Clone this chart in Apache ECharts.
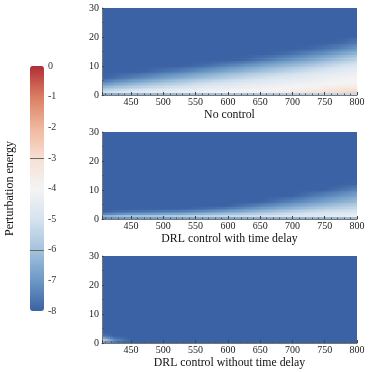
<!DOCTYPE html>
<html>
<head>
<meta charset="utf-8">
<script src="https://cdn.jsdelivr.net/npm/echarts@6/dist/echarts.min.js"></script>
<style>
  html, body { margin: 0; padding: 0; background: #fff; }
  #chart { width: 372px; height: 372px; }
</style>
</head>
<body>
<div id="chart"></div>
<script>
// grid nodes (x: time, y: height)
const xNodes = [405, 425, 450, 475, 500, 525, 550, 575, 600, 625, 650, 675, 700, 725, 750, 775, 800];
const yNodes = [0, 0.3, 0.7, 1.5, 2.5, 3.5, 4.5, 6, 8, 10, 12, 14, 16, 18, 20, 30];

// log perturbation energy at the nodes, one row per y node (bottom to top)
const noControl = [
  [-8, -8, -8, -8, -8, -8, -8, -8, -8, -8, -8, -8, -8, -8, -8, -8, -8],
  [-8, -8, -8, -8, -8, -8, -8, -8, -8, -8, -8, -8, -8, -8, -8, -8, -8],
  [-5.2, -4.9, -4.6, -4.5, -4.4, -4.3, -4.2, -4.1, -4.0, -3.9, -3.8, -3.7, -3.5, -3.3, -3.1, -2.9, -2.6],
  [-5.5, -5.2, -4.9, -4.7, -4.5, -4.4, -4.3, -4.2, -4.1, -4.0, -3.9, -3.8, -3.7, -3.5, -3.3, -3.1, -2.9],
  [-6.2, -5.9, -5.6, -5.3, -5.1, -4.9, -4.7, -4.5, -4.4, -4.3, -4.2, -4.1, -4.0, -3.9, -3.7, -3.5, -3.4],
  [-6.9, -6.6, -6.2, -5.9, -5.6, -5.4, -5.1, -4.9, -4.7, -4.5, -4.4, -4.3, -4.2, -4.1, -4.0, -3.9, -3.8],
  [-7.5, -7.2, -6.8, -6.5, -6.2, -5.9, -5.6, -5.3, -5.1, -4.9, -4.7, -4.5, -4.4, -4.3, -4.2, -4.1, -4.0],
  [-8, -7.8, -7.5, -7.2, -6.9, -6.6, -6.3, -6.0, -5.7, -5.4, -5.1, -4.9, -4.7, -4.5, -4.3, -4.2, -4.1],
  [-8, -8, -8, -7.9, -7.7, -7.5, -7.2, -6.9, -6.6, -6.3, -6.0, -5.7, -5.4, -5.1, -4.8, -4.6, -4.4],
  [-8, -8, -8, -8, -8, -8, -7.9, -7.7, -7.4, -7.1, -6.8, -6.5, -6.2, -5.9, -5.5, -5.1, -4.8],
  [-8, -8, -8, -8, -8, -8, -8, -8, -8, -7.9, -7.6, -7.3, -7.0, -6.7, -6.3, -5.9, -5.5],
  [-8, -8, -8, -8, -8, -8, -8, -8, -8, -8, -8, -7.9, -7.7, -7.4, -7.1, -6.7, -6.3],
  [-8, -8, -8, -8, -8, -8, -8, -8, -8, -8, -8, -8, -8, -7.9, -7.7, -7.4, -7.0],
  [-8, -8, -8, -8, -8, -8, -8, -8, -8, -8, -8, -8, -8, -8, -8, -7.9, -7.6],
  [-8, -8, -8, -8, -8, -8, -8, -8, -8, -8, -8, -8, -8, -8, -8, -8, -8],
  [-8, -8, -8, -8, -8, -8, -8, -8, -8, -8, -8, -8, -8, -8, -8, -8, -8]
];

const delayControl = [
  [-8, -8, -8, -8, -8, -8, -8, -8, -8, -8, -8, -8, -8, -8, -8, -8, -8],
  [-8, -8, -8, -8, -8, -8, -8, -8, -8, -8, -8, -8, -8, -8, -8, -8, -8],
  [-6.3, -6.0, -5.8, -5.7, -5.6, -5.5, -5.4, -5.3, -5.2, -5.1, -5.0, -4.9, -4.8, -4.7, -4.6, -4.5, -4.3],
  [-7.3, -7.0, -6.8, -6.7, -6.5, -6.4, -6.2, -6.0, -5.8, -5.6, -5.4, -5.2, -5.0, -4.8, -4.7, -4.6, -4.5],
  [-8, -7.8, -7.7, -7.6, -7.5, -7.4, -7.2, -7.0, -6.8, -6.5, -6.2, -5.9, -5.6, -5.3, -5.1, -5.0, -4.9],
  [-8, -8, -8, -8, -8, -8, -7.9, -7.7, -7.5, -7.2, -6.9, -6.6, -6.3, -6.0, -5.7, -5.5, -5.3],
  [-8, -8, -8, -8, -8, -8, -8, -8, -8, -7.7, -7.4, -7.1, -6.8, -6.5, -6.2, -5.9, -5.7],
  [-8, -8, -8, -8, -8, -8, -8, -8, -8, -8, -8, -7.7, -7.4, -7.1, -6.8, -6.5, -6.2],
  [-8, -8, -8, -8, -8, -8, -8, -8, -8, -8, -8, -8, -8, -7.7, -7.4, -7.1, -6.8],
  [-8, -8, -8, -8, -8, -8, -8, -8, -8, -8, -8, -8, -8, -8, -8, -7.7, -7.4],
  [-8, -8, -8, -8, -8, -8, -8, -8, -8, -8, -8, -8, -8, -8, -8, -8, -7.9],
  [-8, -8, -8, -8, -8, -8, -8, -8, -8, -8, -8, -8, -8, -8, -8, -8, -8],
  [-8, -8, -8, -8, -8, -8, -8, -8, -8, -8, -8, -8, -8, -8, -8, -8, -8],
  [-8, -8, -8, -8, -8, -8, -8, -8, -8, -8, -8, -8, -8, -8, -8, -8, -8],
  [-8, -8, -8, -8, -8, -8, -8, -8, -8, -8, -8, -8, -8, -8, -8, -8, -8],
  [-8, -8, -8, -8, -8, -8, -8, -8, -8, -8, -8, -8, -8, -8, -8, -8, -8]
];

const noDelayControl = [
  [-8, -8, -8, -8, -8, -8, -8, -8, -8, -8, -8, -8, -8, -8, -8, -8, -8],
  [-8, -8, -8, -8, -8, -8, -8, -8, -8, -8, -8, -8, -8, -8, -8, -8, -8],
  [-5.2, -7.2, -8, -8, -8, -8, -8, -8, -8, -8, -8, -8, -8, -8, -8, -8, -8],
  [-6.4, -7.6, -8, -8, -8, -8, -8, -8, -8, -8, -8, -8, -8, -8, -8, -8, -8],
  [-7.6, -8, -8, -8, -8, -8, -8, -8, -8, -8, -8, -8, -8, -8, -8, -8, -8],
  [-8, -8, -8, -8, -8, -8, -8, -8, -8, -8, -8, -8, -8, -8, -8, -8, -8],
  [-8, -8, -8, -8, -8, -8, -8, -8, -8, -8, -8, -8, -8, -8, -8, -8, -8],
  [-8, -8, -8, -8, -8, -8, -8, -8, -8, -8, -8, -8, -8, -8, -8, -8, -8],
  [-8, -8, -8, -8, -8, -8, -8, -8, -8, -8, -8, -8, -8, -8, -8, -8, -8],
  [-8, -8, -8, -8, -8, -8, -8, -8, -8, -8, -8, -8, -8, -8, -8, -8, -8],
  [-8, -8, -8, -8, -8, -8, -8, -8, -8, -8, -8, -8, -8, -8, -8, -8, -8],
  [-8, -8, -8, -8, -8, -8, -8, -8, -8, -8, -8, -8, -8, -8, -8, -8, -8],
  [-8, -8, -8, -8, -8, -8, -8, -8, -8, -8, -8, -8, -8, -8, -8, -8, -8],
  [-8, -8, -8, -8, -8, -8, -8, -8, -8, -8, -8, -8, -8, -8, -8, -8, -8],
  [-8, -8, -8, -8, -8, -8, -8, -8, -8, -8, -8, -8, -8, -8, -8, -8, -8],
  [-8, -8, -8, -8, -8, -8, -8, -8, -8, -8, -8, -8, -8, -8, -8, -8, -8]
];

const panels = [noControl, delayControl, noDelayControl];
const panelTitles = ['No control', 'DRL control with time delay', 'DRL control without time delay'];
const colorbarTitle = 'Perturbation energy';
const energyMin = -8;
const energyMax = 0;

const FONT = 'Liberation Serif';
const palette = ['#3a62a4', '#6c99c6', '#a5c3dd', '#d6e3ef', '#f4f4f4', '#f7dfd2', '#f0b69c', '#da7d61', '#b02e36'];

function colorOf(v) {
  return echarts.color.lerp((v - energyMin) / (energyMax - energyMin), palette);
}

// one item per cell: [x0, x1, y0, y1, v(x0,y0), v(x1,y0), v(x0,y1), v(x1,y1)]
function toCells(nodes) {
  const cells = [];
  for (let j = 0; j < yNodes.length - 1; j++) {
    for (let i = 0; i < xNodes.length - 1; i++) {
      cells.push([xNodes[i], xNodes[i + 1], yNodes[j], yNodes[j + 1],
        nodes[j][i], nodes[j][i + 1], nodes[j + 1][i], nodes[j + 1][i + 1]]);
    }
  }
  return cells;
}

// shade each cell in thin strips, each strip a horizontal gradient
function renderCell(params, api) {
  const a = api.coord([api.value(0), api.value(3)]);
  const b = api.coord([api.value(1), api.value(2)]);
  const x = Math.floor(a[0]);
  const w = Math.ceil(b[0]) - x;
  const top = a[1], bottom = b[1];
  const v00 = api.value(4), v10 = api.value(5), v01 = api.value(6), v11 = api.value(7);
  const n = Math.max(1, Math.round((bottom - top) / 1.5));
  const children = [];
  for (let k = 0; k < n; k++) {
    const y0 = top + (bottom - top) * k / n;
    const y1 = top + (bottom - top) * (k + 1) / n;
    const t = 1 - (k + 0.5) / n;
    const left = v00 + (v01 - v00) * t;
    const right = v10 + (v11 - v10) * t;
    children.push({
      type: 'rect',
      shape: {x: x, y: Math.floor(y0), width: w, height: Math.ceil(y1) - Math.floor(y0)},
      style: {
        fill: new echarts.graphic.LinearGradient(0, 0, 1, 0, [
          {offset: 0, color: colorOf(left)},
          {offset: 1, color: colorOf(right)}
        ])
      }
    });
  }
  return {type: 'group', children: children};
}

const gridTops = [8, 132, 256];

const chart = echarts.init(document.getElementById('chart'), null, {renderer: 'canvas'});

const grids = gridTops.map(t => ({left: 102, width: 255, top: t, height: 87}));
grids.push({left: 30, width: 14, top: 66, height: 245});

const xAxes = panelTitles.map((title, i) => ({
  type: 'value',
  gridIndex: i,
  min: 405,
  max: 800,
  splitNumber: 8,
  name: title,
  nameLocation: 'middle',
  nameGap: 14,
  nameTextStyle: {fontFamily: FONT, fontSize: 11.8, color: '#111'},
  axisLine: {lineStyle: {color: '#777', width: 1}},
  axisTick: {inside: true, length: 3, lineStyle: {color: '#444'}},
  minorTick: {show: true, splitNumber: 5, length: 1.5, lineStyle: {color: '#555'}},
  axisLabel: {showMinLabel: false, margin: 2, fontFamily: FONT, fontSize: 10, color: '#222'},
  splitLine: {show: false},
  z: 5
}));
xAxes.push({type: 'value', gridIndex: 3, min: 0, max: 1, show: false});

const yAxes = panelTitles.map((title, i) => ({
  type: 'value',
  gridIndex: i,
  min: 0,
  max: 30,
  interval: 10,
  axisLine: {show: true, lineStyle: {color: '#777', width: 1}},
  axisTick: {inside: true, length: 2, lineStyle: {color: '#444'}},
  minorTick: {show: true, splitNumber: 2, length: 1.5, lineStyle: {color: '#555'}},
  axisLabel: {margin: 3, fontFamily: FONT, fontSize: 10, color: '#222'},
  splitLine: {show: false},
  z: 5
}));
yAxes.push({
  type: 'value',
  gridIndex: 3,
  position: 'right',
  min: energyMin,
  max: energyMax,
  interval: 1,
  axisLine: {show: false},
  axisTick: {show: false},
  axisLabel: {margin: 4, fontFamily: FONT, fontSize: 10, color: '#333'},
  splitLine: {
    show: true,
    showMaxLine: false,
    showMinLine: false,
    lineStyle: {color: ['rgba(0,0,0,0)', '#6a6a6a', 'rgba(0,0,0,0)'], width: 1}
  },
  z: 10
});
yAxes.push({
  type: 'value',
  gridIndex: 3,
  position: 'left',
  min: energyMin,
  max: energyMax,
  axisLine: {show: false},
  axisTick: {show: false},
  axisLabel: {show: false},
  splitLine: {show: false},
  name: colorbarTitle,
  nameLocation: 'middle',
  nameGap: 14,
  nameTextStyle: {fontFamily: FONT, fontSize: 12, color: '#111'}
});

const series = panels.map((nodes, i) => ({
  type: 'custom',
  xAxisIndex: i,
  yAxisIndex: i,
  renderItem: renderCell,
  encode: {x: [0, 1], y: [2, 3]},
  silent: true,
  data: toCells(nodes)
}));

chart.setOption({
  animation: false,
  backgroundColor: '#fff',
  grid: grids,
  xAxis: xAxes,
  yAxis: yAxes,
  visualMap: {
    type: 'continuous',
    min: energyMin,
    max: energyMax,
    seriesIndex: [],
    orient: 'vertical',
    left: 30,
    top: 66,
    padding: 0,
    itemWidth: 14,
    itemHeight: 245,
    calculable: false,
    hoverLink: false,
    text: null,
    inRange: {color: palette}
  },
  series: series
});
</script>
</body>
</html>
